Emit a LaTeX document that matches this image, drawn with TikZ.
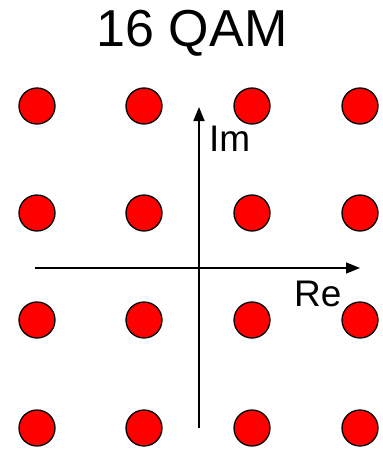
\documentclass[tikz,border=0pt]{standalone}
\usepackage{fontspec}
\setmainfont{Liberation Sans}
\usetikzlibrary{arrows.meta}
\begin{document}
\begin{tikzpicture}[x=1pt,y=-1pt,
  pt/.style={circle,draw=black,line width=1.3pt,fill=red,minimum size=36pt,inner sep=0pt},
  axis/.style={line width=1.6pt,-{Triangle[length=14pt,width=11pt]}},
  lbl/.style={font=\fontsize{37}{40}\selectfont,inner sep=0pt}]
\useasboundingbox (0,0) rectangle (383,450);
\node[inner sep=0pt,font=\fontsize{52}{56}\selectfont] (title) at (192,33) {16 QAM};
\foreach \i/\x in {1/37,2/144,3/252,4/360}{
  \foreach \j/\y in {1/106,2/213,3/320,4/428}{
    \node[pt] (p\i\j) at (\x,\y) {};
  }
}
\coordinate (ybot) at (199,428);
\coordinate (ytop) at (199,107);
\coordinate (xl) at (35,268);
\coordinate (xr) at (360,268);
\draw[axis] (ybot) -- (ytop);
\draw[axis] (xl) -- (xr);
\node[lbl,anchor=north west] (im) at (209,126) {Im};
\node[lbl,anchor=north west] (re) at (294,281) {Re};
\end{tikzpicture}
\end{document}
